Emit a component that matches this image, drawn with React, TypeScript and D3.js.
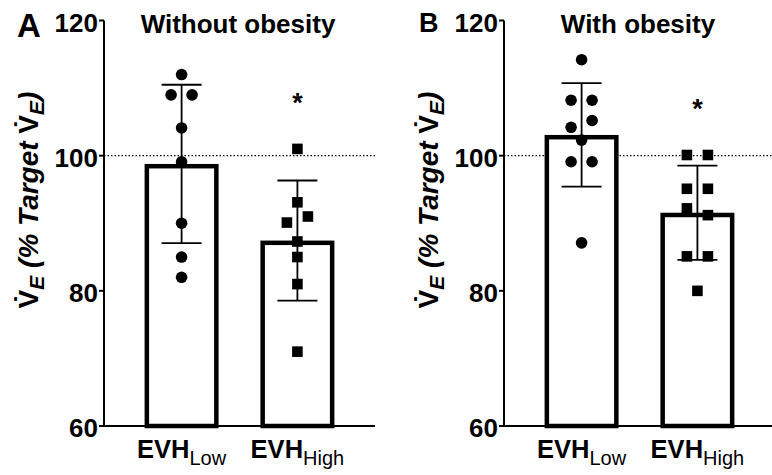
import React from 'react';
import * as d3 from 'd3';

const categories = ['Low', 'High'];
const yTicks = [60, 80, 100, 120];
const withoutLow = [112, 109, 109, 104.1, 99.1, 90.0, 85.0, 82.0];
const withoutHigh = [101, 93.1, 90.1, 91, 87.3, 85, 81, 71];
const withLow = [114.2, 108.2, 108.2, 104.2, 105.2, 102.3, 99.1, 99.1, 87.1];
const withHigh = [100.1, 100.1, 95.1, 95.1, 92.2, 91.2, 85.1, 85.1, 80];
const panelLetters = ['A', 'B'];
const panelTitles = ['Without obesity', 'With obesity'];
const asteriskValues = [106.4, 105.6];
const refValue = 100;

const FONT = '"Liberation Sans", Arial, Helvetica, sans-serif';
const BAR_STROKE = 4.5;

function swarmOffsets(vals: number[], tol: number, spacing: number): number[] {
  const idx = vals.map((_, i) => i).sort((a, b) => vals[b] - vals[a]);
  const offs = new Array(vals.length).fill(0);
  let group: number[] = [];
  const flush = () => {
    const g = [...group].sort((a, b) => a - b);
    g.forEach((k, j) => {
      offs[k] = (j - (g.length - 1) / 2) * spacing;
    });
  };
  idx.forEach((i) => {
    if (group.length && vals[group[0]] - vals[i] < tol) group.push(i);
    else {
      if (group.length) flush();
      group = [i];
    }
  });
  if (group.length) flush();
  return offs;
}

type PanelProps = {
  axisX: number;
  low: number[];
  high: number[];
  letter: string;
  title: string;
  letterX: number;
  letterY: number;
  letterSize: number;
  asterisk: number;
};

function Panel({ axisX, low, high, letter, title, letterX, letterY, letterSize, asterisk }: PanelProps) {
  const plotW = 271;
  const y = d3.scaleLinear().domain([60, 120]).range([426, 20.5]);
  const x = d3
    .scaleBand<string>()
    .domain(categories)
    .range([axisX, axisX + plotW])
    .paddingInner(0.4)
    .paddingOuter(0.37);
  const bw = x.bandwidth();
  const series = [low, high];
  const labelX = axisX - 66;
  const labelY = 200;

  return (
    <g fontFamily={FONT}>
      <line
        x1={axisX}
        x2={axisX + plotW}
        y1={y(refValue)}
        y2={y(refValue)}
        stroke="#000"
        strokeWidth={1.2}
        strokeDasharray="1.5,2"
      />
      {series.map((vals, i) => {
        const m = d3.mean(vals) as number;
        const bx = x(categories[i]) as number;
        const top = y(m) + BAR_STROKE / 2;
        return (
          <rect
            key={'bar' + i}
            x={bx}
            y={top}
            width={bw}
            height={y(60) - top}
            fill="#fff"
            stroke="#000"
            strokeWidth={BAR_STROKE}
          />
        );
      })}
      {series.map((vals, i) => {
        const m = d3.mean(vals) as number;
        const sd = d3.deviation(vals) as number;
        const cx = (x(categories[i]) as number) + bw / 2;
        const capW = 20;
        return (
          <g key={'err' + i} stroke="#000" strokeWidth={1.8}>
            <line x1={cx} x2={cx} y1={y(m + sd)} y2={y(m - sd)} />
            <line x1={cx - capW} x2={cx + capW} y1={y(m + sd)} y2={y(m + sd)} />
            <line x1={cx - capW} x2={cx + capW} y1={y(m - sd)} y2={y(m - sd)} />
          </g>
        );
      })}
      {series.map((vals, i) => {
        const cx = (x(categories[i]) as number) + bw / 2;
        const offs = swarmOffsets(vals, 1.6, 21);
        return vals.map((v, j) =>
          i === 0 ? (
            <circle key={'p' + i + j} cx={cx + offs[j]} cy={y(v)} r={5.8} fill="#000" />
          ) : (
            <rect
              key={'p' + i + j}
              x={cx + offs[j] - 5.3}
              y={y(v) - 5.3}
              width={10.6}
              height={10.6}
              fill="#000"
            />
          )
        );
      })}
      <text
        x={(x(categories[1]) as number) + bw / 2}
        y={y(asterisk)}
        textAnchor="middle"
        fontSize={27}
        fontWeight="bold"
      >
        *
      </text>
      <line x1={axisX} x2={axisX} y1={y(120)} y2={y(60)} stroke="#000" strokeWidth={2} />
      <line x1={axisX - 5} x2={axisX + plotW} y1={y(60)} y2={y(60)} stroke="#000" strokeWidth={2} />
      {yTicks.map((t) => (
        <g key={'t' + t}>
          <line x1={axisX - 5} x2={axisX} y1={y(t)} y2={y(t)} stroke="#000" strokeWidth={2} />
          <text
            x={axisX - 6}
            y={y(t) + 11}
            textAnchor="end"
            fontSize={26}
            fontWeight="bold"
          >
            {t}
          </text>
        </g>
      ))}
      {categories.map((c) => (
        <text
          key={'xl' + c}
          x={(x(c) as number) + bw / 2}
          y={458}
          textAnchor="middle"
          fontSize={25.5}
          fontWeight="bold"
        >
          EVH
          <tspan fontSize={20} fontWeight="normal" dy={7}>
            {c}
          </tspan>
        </text>
      ))}
      <text
        transform={`translate(${labelX},${labelY}) rotate(-90)`}
        textAnchor="middle"
        fontSize={28}
        fontWeight="bold"
      >
        <tspan>{'V\u0307'}</tspan>
        <tspan fontSize={21} fontStyle="italic" dy={6}>
          E
        </tspan>
        <tspan fontStyle="italic" dy={-6}>
          {' (% Target '}
        </tspan>
        <tspan>{'V\u0307'}</tspan>
        <tspan fontSize={21} fontStyle="italic" dy={6}>
          E
        </tspan>
        <tspan fontStyle="italic" dy={-6}>
          )
        </tspan>
      </text>
      <text
        x={axisX + 134}
        y={32.5}
        textAnchor="middle"
        fontSize={26}
        fontWeight="bold"
      >
        {title}
      </text>
      <text x={letterX} y={letterY} fontSize={letterSize} fontWeight="bold">
        {letter}
      </text>
    </g>
  );
}

export default function App() {
  return (
    <svg
      width={772}
      height={475}
      style={{ position: 'absolute', left: 0, top: 0, background: '#fff' }}
    >
      <rect width={772} height={475} fill="#fff" />
      <Panel
        axisX={104}
        low={withoutLow}
        high={withoutHigh}
        letter={panelLetters[0]}
        title={panelTitles[0]}
        letterX={17}
        letterY={37}
        letterSize={33}
        asterisk={asteriskValues[0]}
      />
      <Panel
        axisX={504}
        low={withLow}
        high={withHigh}
        letter={panelLetters[1]}
        title={panelTitles[1]}
        letterX={419}
        letterY={32}
        letterSize={27}
        asterisk={asteriskValues[1]}
      />
    </svg>
  );
}
